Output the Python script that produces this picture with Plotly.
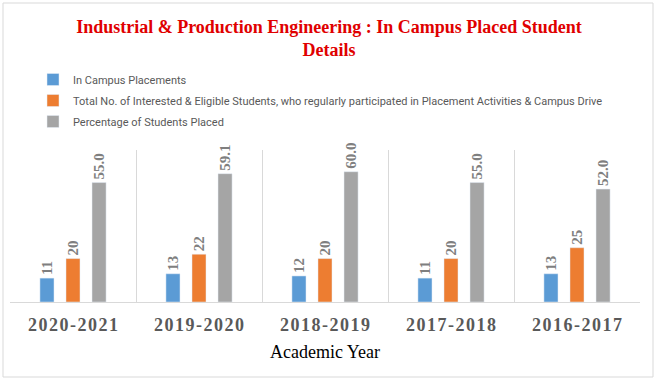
import plotly.graph_objects as go

years = ["2020-2021", "2019-2020", "2018-2019", "2017-2018", "2016-2017"]
placements = [11, 13, 12, 11, 13]
eligible = [20, 22, 20, 20, 25]
percentage = [55.0, 59.1, 60.0, 55.0, 52.0]

series_names = [
    "In Campus Placements",
    "Total No. of Interested & Eligible Students, who regularly participated in Placement Activities & Campus Drive",
    "Percentage of Students Placed",
]
colors = ["#5b9bd5", "#ed7d31", "#a5a5a5"]

HS = "\u200a"
tick_text = [HS.join(list(y)) for y in years]

W, H = 658, 380
L, R, T, B = 10, 18, 150, 78
pw, ph = W - L - R, H - T - B

def px(x):
    return (x - L) / pw

def py(y):
    return (H - B - y) / ph

serif = "Liberation Serif, Times New Roman, serif"
label_font = dict(family=serif, size=15, color="#7f7f7f", weight="bold")

fig = go.Figure()
for i, (name, vals, col) in enumerate(zip(series_names, [placements, eligible, percentage], colors)):
    fig.add_trace(go.Bar(
        x=years, y=vals, name=name, marker_color=col,
        legendgroup=f"g{i}",
        texttemplate="%{y:.1f}" if i == 2 else "%{y}",
        textposition="outside", textangle=-90, textfont=label_font,
        constraintext="none", cliponaxis=False,
    ))

fig.update_layout(
    width=W, height=H,
    margin=dict(l=L, r=R, t=T, b=B, autoexpand=False),
    paper_bgcolor="white", plot_bgcolor="white",
    barmode="group", bargap=0.38, bargroupgap=0.46,
    title=dict(
        text="Industrial & Production Engineering : In Campus Placed Student<br>Details",
        x=0.5, xanchor="center", y=1 - 33 / H, yanchor="top", yref="container",
        font=dict(family=serif, size=18, color="#e00000", weight="bold"),
    ),
    legend=dict(
        x=px(33), y=py(65), xanchor="left", yanchor="top",
        orientation="v", tracegroupgap=2,
        font=dict(family="Roboto, sans-serif", size=11, color="#595959"),
        bgcolor="rgba(0,0,0,0)",
    ),
    xaxis=dict(
        type="category", tickmode="array", tickvals=years, ticktext=tick_text,
        tickson="boundaries", ticks="", showgrid=True, gridcolor="#d9d9d9", gridwidth=1,
        showline=True, linecolor="#d9d9d9", linewidth=1, automargin=False,
        ticklabelstandoff=6,
        tickfont=dict(family=serif, size=18, color="#595959", weight="bold"),
        title=dict(text="Academic Year", font=dict(family=serif, size=18, color="#000000"), standoff=11),
        fixedrange=True,
    ),
    yaxis=dict(range=[0, 70], visible=False, showgrid=False, fixedrange=True, automargin=False),
    shapes=[dict(type="rect", xref="paper", yref="paper",
                 x0=px(3), x1=px(653), y0=py(377), y1=py(3),
                 line=dict(color="#d9d9d9", width=1), fillcolor="rgba(0,0,0,0)", layer="below")],
)

fig.write_html("out.html", config={"displayModeBar": False},
               post_script="document.body.style.margin='0';")
